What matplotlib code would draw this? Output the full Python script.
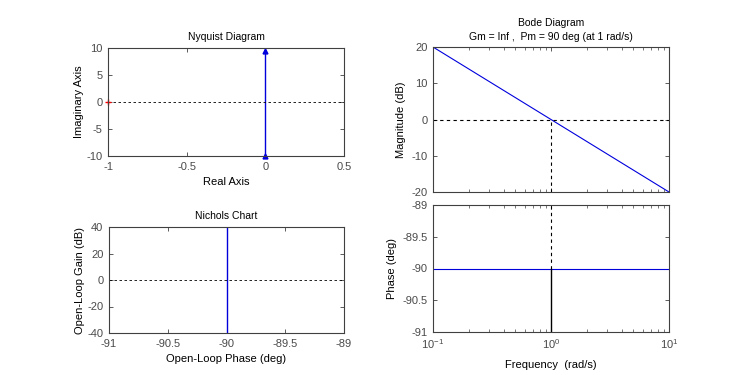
import matplotlib
matplotlib.use("Agg")
import matplotlib.pyplot as plt
import numpy as np
from matplotlib.ticker import LogLocator, NullFormatter

plt.rcParams['font.family'] = ['Liberation Sans', 'DejaVu Sans']
plt.rcParams['font.size'] = 8
plt.rcParams['axes.unicode_minus'] = False

# ---- data ----
nyq_real = [0, 0]
nyq_imag = [-10, 10]
crit_point = (-1, 0)

nich_phase = [-90, -90]
nich_gain = [-40, 40]

freq = [0.1, 10]
mag_db = [20, -20]
phase_deg = [-90, -90]

nyq_xticks = [-1, -0.5, 0, 0.5]
nyq_yticks = [-10, -5, 0, 5, 10]
nich_xticks = [-91, -90.5, -90, -89.5, -89]
nich_yticks = [-40, -20, 0, 20, 40]
mag_yticks = [-20, -10, 0, 10, 20]
ph_yticks = [-91, -90.5, -90, -89.5, -89]
wc = 1.0
title_bode = "Bode Diagram\nGm = Inf ,  Pm = 90 deg (at 1 rad/s)"

W, H = 740, 375
fig = plt.figure(figsize=(W/100, H/100), dpi=100)

def ax_px(l, t, r, b):
    return fig.add_axes([l/W, 1 - b/H, (r-l)/W, (b-t)/H])

tc = '#4a4a4a'
ec = '#404040'
blue = '#0000dd'

def style(ax):
    for s in ax.spines.values():
        s.set_color(ec)
        s.set_linewidth(0.8)
    ax.tick_params(direction='in', top=True, right=True, length=3, colors=ec,
                   labelcolor=tc, labelsize=8, width=0.6, pad=4)
    ax.tick_params(which='minor', direction='in', top=True, right=True, length=2, colors=ec, width=0.5)

# Nyquist
ax1 = ax_px(108, 48, 344, 156)
style(ax1)
ax1.plot(nyq_real, nyq_imag, color=blue, lw=1.0)
ax1.plot([nyq_real[0]], [9.5], marker='^', color=blue, ms=3.5)
ax1.plot([nyq_real[0]], [-10], marker='^', color=blue, ms=3.5, clip_on=False)
ax1.axhline(0, color='k', ls='--', lw=0.6, dashes=(3, 3))
ax1.plot([crit_point[0]], [crit_point[1]], marker='+', color='red', ms=5, clip_on=False)
ax1.set_xlim(-1, 0.5)
ax1.set_ylim(-10, 10)
ax1.set_xticks(nyq_xticks)
ax1.set_xticklabels(['-1', '-0.5', '0', '0.5'])
ax1.set_yticks(nyq_yticks)
ax1.set_title('Nyquist Diagram', fontsize=7.5, color='k', pad=6)
ax1.set_xlabel('Real Axis', fontsize=8, color='k', labelpad=4)
ax1.set_ylabel('Imaginary Axis', fontsize=8, color='k', labelpad=2)

# Nichols
ax2 = ax_px(109, 227, 344, 333)
style(ax2)
ax2.plot(nich_phase, nich_gain, color=blue, lw=1.0)
ax2.axhline(0, color='k', ls='--', lw=0.6, dashes=(3, 3))
ax2.set_xlim(-91, -89)
ax2.set_ylim(-40, 40)
ax2.set_xticks(nich_xticks)
ax2.set_xticklabels(['-91', '-90.5', '-90', '-89.5', '-89'])
ax2.set_yticks(nich_yticks)
ax2.set_title('Nichols Chart', fontsize=7.5, color='k', pad=6)
ax2.set_xlabel('Open-Loop Phase (deg)', fontsize=8, color='k', labelpad=4)
ax2.set_ylabel('Open-Loop Gain (dB)', fontsize=8, color='k', labelpad=2)

# Bode magnitude
ax3 = ax_px(433, 47, 669, 192)
style(ax3)
ax3.semilogx(freq, mag_db, color=blue, lw=0.8)
ax3.axhline(0, color='k', ls='--', lw=0.8, dashes=(3, 3))
ax3.plot([wc, wc], [-20, 0], color='k', ls='--', lw=0.8, dashes=(3, 3))
ax3.set_xlim(0.1, 10)
ax3.set_ylim(-20, 20)
ax3.set_yticks(mag_yticks)
ax3.xaxis.set_minor_locator(LogLocator(base=10, subs=np.arange(2, 10)))
ax3.xaxis.set_minor_formatter(NullFormatter())
ax3.set_xticklabels([])
ax3.set_ylabel('Magnitude (dB)', fontsize=8, color='k', labelpad=4)
ax3.set_title(title_bode, fontsize=7.5, color='k', pad=5, linespacing=1.5)

# Bode phase
ax4 = ax_px(433, 205, 669, 332)
style(ax4)
ax4.semilogx(freq, phase_deg, color=blue, lw=0.8)
ax4.plot([wc, wc], [-91, -90], color='k', lw=1.0)
ax4.plot([wc, wc], [-90, -89], color='k', ls='--', lw=0.8, dashes=(3, 3))
ax4.set_xlim(0.1, 10)
ax4.set_ylim(-91, -89)
ax4.set_yticks(ph_yticks)
ax4.set_yticklabels(['-91', '-90.5', '-90', '-89.5', '-89'])
ax4.xaxis.set_minor_locator(LogLocator(base=10, subs=np.arange(2, 10)))
ax4.xaxis.set_minor_formatter(NullFormatter())
ax4.set_ylabel('Phase (deg)', fontsize=8, color='k', labelpad=4)
ax4.set_xlabel('Frequency  (rad/s)', fontsize=8, color='k', labelpad=6)

fig.savefig('out.png', dpi=100)
